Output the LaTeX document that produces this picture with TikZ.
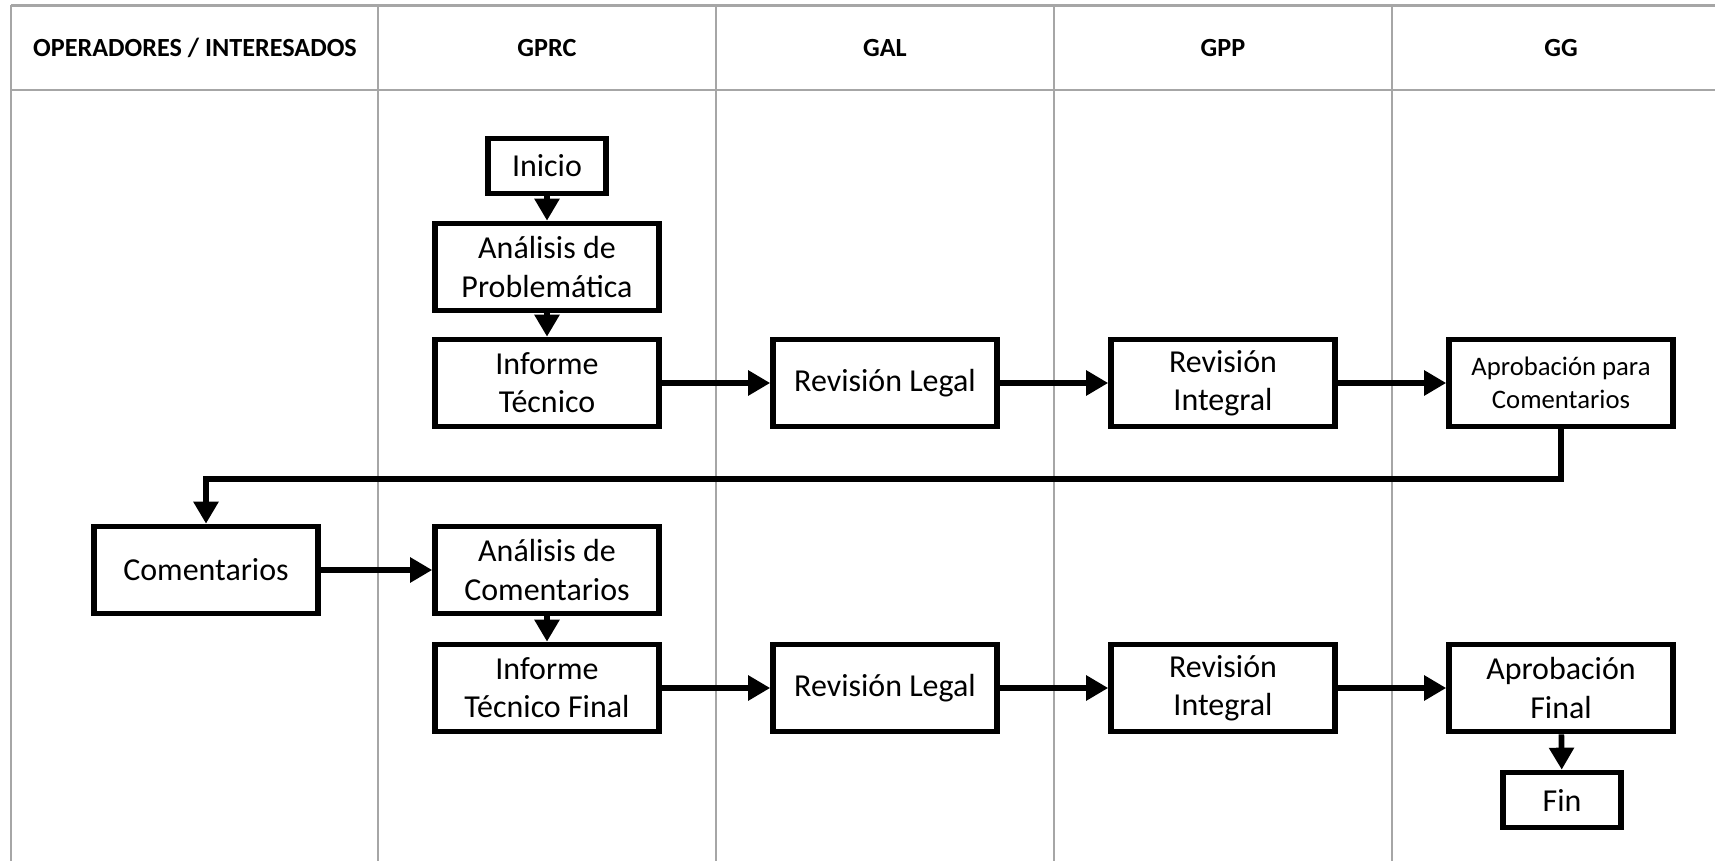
\documentclass[tikz,border=0pt]{standalone}
\usepackage{fontspec}
\setmainfont{Carlito}
\usepackage{tikz}
\usetikzlibrary{positioning, arrows.meta, calc}
\definecolor{laneGray}{HTML}{A6A6A6}

\begin{document}
\begin{tikzpicture}[
    x=0.02cm, y=-0.02cm,
    every node/.style={align=center, font=\fontsize{18.2}{21.8}\selectfont},
    lane/.style={draw=laneGray, line width=1.6pt},
    header/.style={font=\fontsize{14.9}{17}\selectfont\bfseries},
    process/.style={
        rectangle, draw=black, line width=3.2pt, fill=white,
        minimum width=4.48cm, minimum height=1.74cm, inner sep=2pt
    },
    terminal/.style={
        rectangle, draw=black, line width=3.2pt, fill=white,
        minimum width=2.36cm, minimum height=1.1cm, inner sep=2pt
    },
    arrow/.style={-{Triangle[length=0.44cm, width=0.48cm]}, line width=3.2pt, draw=black},
]
\useasboundingbox (0,0) rectangle (1715,861);

% === SWIMLANES ===
\draw[lane] (11,5.5) -- (1715,5.5);
\draw[lane] (11,90) -- (1715,90);
\draw[lane] (11,5.5) -- (11,861);
\draw[lane] (378,5.5) -- (378,861);
\draw[lane] (716,5.5) -- (716,861);
\draw[lane] (1054,5.5) -- (1054,861);
\draw[lane] (1392,5.5) -- (1392,861);

\node[header] (hOper) at (195,48) {OPERADORES / INTERESADOS};
\node[header] (hGprc) at (547,48) {GPRC};
\node[header] (hGal) at (885,48) {GAL};
\node[header] (hGpp) at (1223,48) {GPP};
\node[header] (hGg) at (1561,48) {GG};

% === FIRST ROUND ===
\node[terminal] (inicio) at (547,166) {Inicio};
\node[process] (anaprob) at (547,267) {Análisis de\\Problemática};
\node[process] (inftec) at (547,383) {Informe\\Técnico};
\node[process] (revleg) at (885,383) {Revisión Legal};
\node[process] (revint) at (1223,383) {Revisión\\Integral};
\node[process, font=\fontsize{15.2}{19}\selectfont] (aprcom) at (1561,383)
    {Aprobación para\\Comentarios};

% === SECOND ROUND ===
\node[process] (coment) at (206,570) {Comentarios};
\node[process] (anacom) at (547,570) {Análisis de\\Comentarios};
\node[process] (inffin) at (547,688) {Informe\\Técnico Final};
\node[process] (revleg2) at (885,688) {Revisión Legal};
\node[process] (revint2) at (1223,688) {Revisión\\Integral};
\node[process] (aprfin) at (1561,688) {Aprobación\\Final};
\node[terminal] (fin) at (1562,800) {Fin};

% === ARROWS ===
\draw[arrow] (inicio) -- (anaprob);
\draw[arrow] (anaprob) -- (inftec);
\draw[arrow] (inftec) -- (revleg);
\draw[arrow] (revleg) -- (revint);
\draw[arrow] (revint) -- (aprcom);

% aprcom -> comentarios (return path)
\draw[arrow] (aprcom.south) -- ++(0,50) -| (coment.north);

\draw[arrow] (coment) -- (anacom);
\draw[arrow] (anacom) -- (inffin);
\draw[arrow] (inffin) -- (revleg2);
\draw[arrow] (revleg2) -- (revint2);
\draw[arrow] (revint2) -- (aprfin);
\draw[arrow] (aprfin) -- (fin);
\end{tikzpicture}
\end{document}
